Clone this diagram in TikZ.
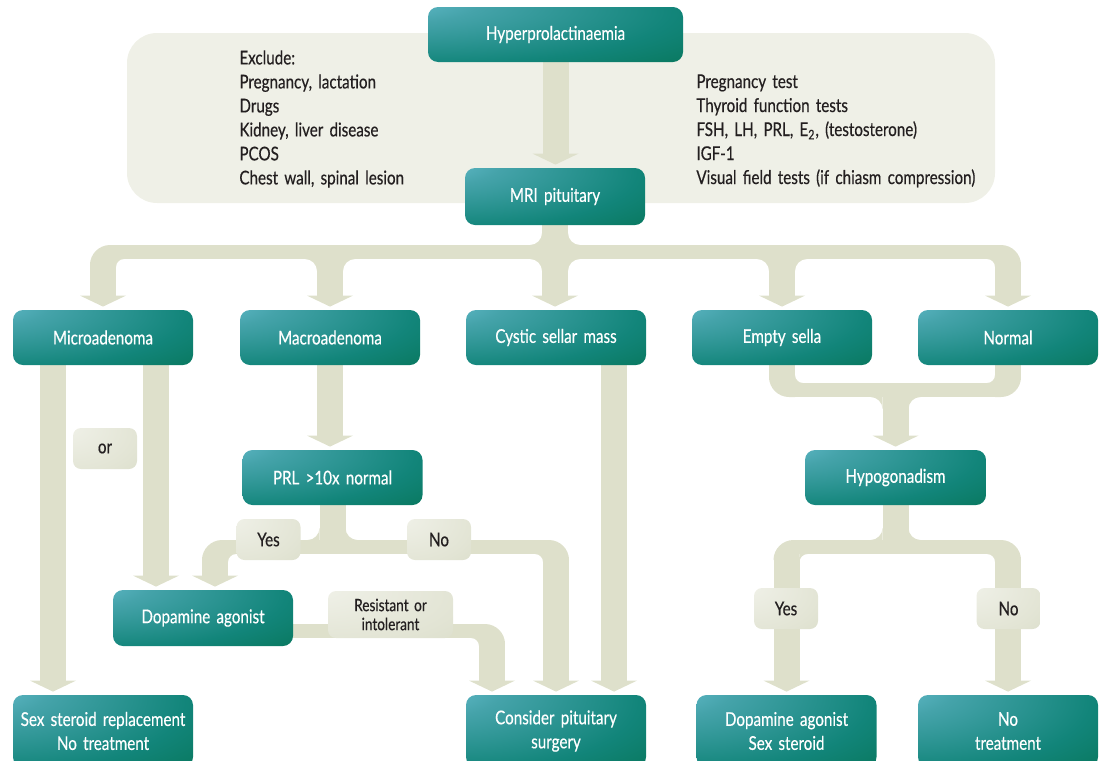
\documentclass[tikz,border=0pt]{standalone}
\usepackage{fontspec}
\setmainfont{Lato}[FakeStretch=0.8, WordSpace=1.6, FakeBold=0.4]
\usetikzlibrary{arrows.meta, positioning, calc, backgrounds}

\definecolor{tealA}{HTML}{6DC3D6}
\definecolor{tealB}{HTML}{45A3AA}
\definecolor{tealC}{HTML}{12857A}
\definecolor{tealD}{HTML}{006B43}
\definecolor{paleA}{HTML}{F1F2EA}
\definecolor{paleB}{HTML}{E2E4D4}
\definecolor{paleC}{HTML}{CACFB3}
\definecolor{connfill}{HTML}{DEE0CB}
\definecolor{panel}{HTML}{EFF0E7}
\definecolor{inkdark}{HTML}{231F20}

\pgfdeclareradialshading{tealshade}{\pgfpoint{-38bp}{32bp}}{%
  color(0bp)=(tealA); color(18bp)=(tealB); color(48bp)=(tealC);
  color(80bp)=(tealD); color(140bp)=(tealD)}
\pgfdeclareradialshading{paleshade}{\pgfpoint{-35bp}{30bp}}{%
  color(0bp)=(paleA); color(50bp)=(paleB); color(110bp)=(paleC);
  color(140bp)=(paleC)}

% concave rounding where a shaft meets a bar: [radius]{corner}{x sign}{y sign}
\newcommand\fillet[4][12]{\fill[connfill] #2 -- ++(0,#1*#4)
  .. controls +(0,-0.55*#1*#4) and +(-0.55*#1*#3,0) .. ++(#1*#3,-#1*#4) -- cycle;}
% rounded outer corner where a bar turns into a shaft: {bar/shaft crossing}{bar side}{shaft side}
\newcommand\bend[3]{\fill[connfill] #1 ++(-13*#2,13*#3)
  .. controls +(0,-11*#3) and +(-11*#2,0) .. ++(20*#2,-20*#3)
  -- ++(6*#2,0) -- ++(0,20*#3) -- cycle;}

\begin{document}
\begin{tikzpicture}[x=0.5pt, y=-0.5pt,
  tbox/.style={rectangle, rounded corners=5pt, shade, shading=tealshade,
    text=white, minimum width=90pt, minimum height=27.5pt, align=center,
    inner sep=0pt, font=\fontsize{9.5}{12}\selectfont},
  lbl/.style={rectangle, rounded corners=4pt, shade, shading=paleshade,
    text=inkdark, minimum width=32pt, minimum height=20.5pt, align=center,
    inner sep=0pt, font=\fontsize{9.5}{12}\selectfont},
  listtxt/.style={anchor=north west, align=left, inner sep=0pt, text=inkdark,
    font=\fontsize{9.5}{12}\selectfont},
  pipe/.style={draw=connfill, line width=13pt},
  shaft/.style={pipe, shorten >=1.5pt,
    -{Triangle[width=23pt, length=5.5pt, line width=0pt]}},
  bar/.style={draw=connfill, line width=7pt}]
  \useasboundingbox (0,0) rectangle (1106,760);

  % Boxes
  \node[tbox, minimum width=127.5pt] (hyper) at (555.5,34.5) {Hyperprolactinaemia};
  \node[tbox, minimum height=28.5pt] (mri) at (555,196.5) {MRI pituitary};
  \node[tbox] (micro) at (103,337.5) {Microadenoma};
  \node[tbox] (macro) at (330,337.5) {Macroadenoma};
  \node[tbox] (cystic) at (556,337.5) {Cystic sellar mass};
  \node[tbox] (empty) at (782,337.5) {Empty sella};
  \node[tbox] (normal) at (1008,337.5) {Normal};
  \node[tbox] (prl) at (332.5,477.5) {PRL >10x normal};
  \node[tbox, minimum width=90.5pt] (hypo) at (895.5,477.5) {Hypogonadism};
  \node[tbox, minimum height=28pt] (da) at (203,618) {Dopamine agonist};
  \node[tbox, minimum height=36pt] (sexst) at (103,731) {Sex steroid replacement\\No treatment};
  \node[tbox, minimum height=36pt] (surg) at (556,731) {Consider pituitary\\surgery};
  \node[tbox, minimum height=36pt] (dasex) at (786.5,731) {Dopamine agonist\\Sex steroid};
  \node[tbox, minimum height=36pt] (notreat) at (1008,731) {No\\treatment};

  % Labels on the connectors
  \node[lbl] (or) at (105,448.5) {or};
  \node[lbl] (yesA) at (268.5,539.5) {Yes};
  \node[lbl] (noA) at (439,539.5) {No};
  \node[lbl, minimum width=62.5pt, minimum height=23.5pt,
    font=\fontsize{8.5}{9.5}\selectfont] (resist) at (390.5,614.5) {Resistant or\\intolerant};
  \node[lbl] (yesB) at (786,608.5) {Yes};
  \node[lbl] (noB) at (1008.5,608.5) {No};

  % Text in the panel
  \node[listtxt] (excl) at (239,50) {Exclude:\\Pregnancy, lactation\\Drugs\\Kidney, liver disease\\PCOS\\Chest wall, spinal lesion};
  \node[listtxt] (tests) at (696,74) {Pregnancy test\\Thyroid function tests\\FSH, LH, PRL, E\textsubscript{2}, (testosterone)\\IGF-1\\Visual field tests (if chiasm compression)};

  % Where bars and shafts cross
  \coordinate (split) at (mri.south |- 0,252);
  \coordinate (join) at (hypo.north |- 0,390);
  \coordinate (fork) at (hypo.south |- 0,547);
  \coordinate (prlfork) at (prl.south |- 0,547);
  \coordinate (daYes) at ($(da.north)+(12,0)$);
  \coordinate (surgRes) at ($(surg.north)+(-64,0)$);
  \coordinate (resbar) at ($(da.east)+(0,13)$);
  \coordinate (eMicro) at (micro.north |- split);
  \coordinate (eNormal) at (normal.north |- split);
  \coordinate (eEmpty) at (empty.south |- join);
  \coordinate (eNormB) at (normal.south |- join);
  \coordinate (eYesA) at (daYes |- prlfork);
  \coordinate (eNoA) at (surg.north |- prlfork);
  \coordinate (eRes) at (surgRes |- resbar);
  \coordinate (eYesB) at (dasex.north |- fork);
  \coordinate (eNoB) at (notreat.north |- fork);

  \begin{scope}[on background layer]
    \fill[panel, rounded corners=15pt] (127,33) rectangle (995,203);

    % Hyperprolactinaemia -> MRI -> five findings
    \draw[shaft] (hyper.south) -- (hyper.south |- mri.north);
    \draw[shaft] (mri.south) -- (mri.south |- cystic.north);
    \draw[bar] ($(eMicro)+(5,0)$) -- ($(eNormal)+(-5,0)$);
    \bend{(eMicro)}{1}{1}
    \bend{(eNormal)}{-1}{1}
    \draw[shaft] ($(eMicro)+(0,10)$) -- (micro.north);
    \draw[shaft] ($(eNormal)+(0,10)$) -- (normal.north);
    \draw[shaft] (macro.north |- split) -- (macro.north);
    \draw[shaft] (empty.north |- split) -- (empty.north);
    \fillet{($(split)+(-13,-7)$)}{-1}{-1}
    \fillet{($(split)+(13,-7)$)}{1}{-1}
    \foreach \n in {macro, mri, empty} {
      \fillet{($(\n.north |- split)+(-13,7)$)}{-1}{1}
      \fillet{($(\n.north |- split)+(13,7)$)}{1}{1}
    }
    \fillet[8]{($(eMicro)+(13,7)$)}{1}{1}
    \fillet[8]{($(eNormal)+(-13,7)$)}{-1}{1}

    % Microadenoma
    \draw[shaft] ($(micro.south)+(-50,0)$) -- ($(sexst.north)+(-50,0)$);
    \draw[shaft] ($(micro.south)+(53,0)$) -- ($(da.north)+(-47,0)$);

    % Macroadenoma -> PRL -> yes / no
    \draw[shaft] (macro.south) -- (macro.south |- prl.north);
    \draw[pipe] (prl.south) -- (prlfork);
    \draw[bar] ($(eYesA)+(5,0)$) -- ($(eNoA)+(-5,0)$);
    \bend{(eYesA)}{1}{1}
    \bend{(eNoA)}{-1}{1}
    \draw[shaft] ($(eYesA)+(0,10)$) -- (daYes);
    \draw[shaft] ($(eNoA)+(0,10)$) -- (surg.north);
    \fillet{($(prlfork)+(-13,-7)$)}{-1}{-1}
    \fillet{($(prlfork)+(13,-7)$)}{1}{-1}
    \fillet[8]{($(eYesA)+(13,7)$)}{1}{1}
    \fillet[8]{($(eNoA)+(-13,7)$)}{-1}{1}

    % Dopamine agonist -> surgery
    \draw[bar] ($(da.east)+(-10,13)$) -- ($(eRes)+(-5,0)$);
    \bend{(eRes)}{-1}{1}
    \draw[shaft] ($(eRes)+(0,10)$) -- (surgRes);
    \fillet[8]{($(eRes)+(-13,7)$)}{-1}{1}

    % Cystic sellar mass -> surgery
    \draw[shaft] ($(cystic.south)+(58,0)$) -- ($(surg.north)+(58,0)$);

    % Empty sella / Normal -> Hypogonadism
    \draw[bar] ($(eEmpty)+(5,0)$) -- ($(eNormB)+(-5,0)$);
    \bend{(eEmpty)}{1}{-1}
    \bend{(eNormB)}{-1}{-1}
    \draw[pipe] (empty.south) -- ($(eEmpty)+(0,-10)$);
    \draw[pipe] (normal.south) -- ($(eNormB)+(0,-10)$);
    \draw[shaft] (join) -- (hypo.north);
    \fillet{($(join)+(-13,7)$)}{-1}{1}
    \fillet{($(join)+(13,7)$)}{1}{1}
    \fillet[8]{($(eEmpty)+(13,-7)$)}{1}{-1}
    \fillet[8]{($(eNormB)+(-13,-7)$)}{-1}{-1}

    % Hypogonadism -> yes / no
    \draw[pipe] (hypo.south) -- (fork);
    \draw[bar] ($(eYesB)+(5,0)$) -- ($(eNoB)+(-5,0)$);
    \bend{(eYesB)}{1}{1}
    \bend{(eNoB)}{-1}{1}
    \draw[shaft] ($(eYesB)+(0,10)$) -- (dasex.north);
    \draw[shaft] ($(eNoB)+(0,10)$) -- (notreat.north);
    \fillet{($(fork)+(-13,-7)$)}{-1}{-1}
    \fillet{($(fork)+(13,-7)$)}{1}{-1}
    \fillet[8]{($(eYesB)+(13,7)$)}{1}{1}
    \fillet[8]{($(eNoB)+(-13,7)$)}{-1}{1}
  \end{scope}
\end{tikzpicture}
\end{document}
